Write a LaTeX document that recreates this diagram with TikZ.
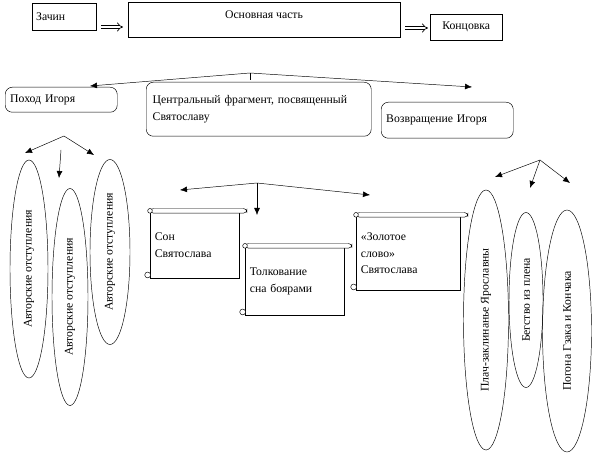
\documentclass[tikz,border=0pt]{standalone}
\usepackage{fontspec}
\setmainfont{Liberation Serif}
\usetikzlibrary{arrows.meta, positioning, shapes.geometric}

\begin{document}
\begin{tikzpicture}[
    x=0.03cm, y=-0.03cm,
    font=\fontsize{10}{14}\selectfont,
    box/.style={rectangle, draw=black, inner sep=3pt},
    rbox/.style={rectangle, rounded corners=6pt, draw=black, inner sep=4pt, align=left},
    oval/.style={ellipse, draw=black, inner sep=0pt},
    scroll/.style={rectangle, draw=black, align=left, inner sep=4pt, text width=#1},
    arrow/.style={->, >={Latex[length=6pt,width=5pt]}},
    dblarrow/.style={double, double distance=2pt, -{Implies}, semithick}
]
\useasboundingbox (0,0) rectangle (600,457);

% Top row
\node[box, minimum width=64*0.03cm, minimum height=27*0.03cm, anchor=north west, text width=56*0.03cm, align=left] (zachin) at (32,3) {Зачин};
\node[box, minimum width=272*0.03cm, minimum height=35*0.03cm, anchor=north west] (main) at (128,2) {};
\node at (264,15) {Основная часть};
\node[box, minimum width=72*0.03cm, minimum height=26*0.03cm, anchor=north west] (end) at (430,14) {Концовка};
\coordinate (a1) at (101,27);
\coordinate (a2) at (405,28);
\draw[dblarrow] (a1) -- ++(22,0);
\draw[dblarrow] (a2) -- ++(23,0);

% Parts
\node[rbox, minimum width=112*0.03cm, minimum height=25*0.03cm, anchor=north west, text width=102*0.03cm] (pohod) at (5,87) {Поход Игоря};
\node[rbox, minimum width=225*0.03cm, minimum height=54*0.03cm, anchor=north west, text width=212*0.03cm] (center) at (146,82) {Центральный фрагмент, посвященный\\Святославу\\[8pt]};
\node[rbox, minimum width=132*0.03cm, minimum height=36*0.03cm, anchor=north west, text width=122*0.03cm] (vozvr) at (381,102) {Возвращение Игоря};

\coordinate (top) at (250,73);
\draw (top) -- ++(0,7);
\draw[arrow] (top) -- (90,86);
\draw[arrow] (top) -- (472,87);

% Left ovals
\node[oval, minimum width=38*0.03cm, minimum height=218*0.03cm] (o1) at (29,269) {};
\node[oval, minimum width=36*0.03cm, minimum height=217*0.03cm] (o2) at (70,297) {};
\node[oval, minimum width=40*0.03cm, minimum height=185*0.03cm] (o3) at (110,252) {};
\node[rotate=90] at (o1) {Авторские отступления};
\node[rotate=90] at (o2) {Авторские отступления};
\node[rotate=90] at (o3) {Авторские отступления};
\coordinate (lt) at (64,136);
\draw[arrow] (lt) -- (25,153);
\draw[arrow] (lt) -- (94,155);
\draw[arrow] (61,150) -- (59,178);

% Scrolls
\node[scroll=80*0.03cm, minimum height=66*0.03cm, anchor=north west] (s1) at (150,212) {Сон\\Святослава};
\node[scroll=90*0.03cm, minimum height=68*0.03cm, anchor=north west] (s2) at (245,247) {Толкование\\сна боярами};
\node[scroll=95*0.03cm, minimum height=74*0.03cm, anchor=north west] (s3) at (356,216) {«Золотое\\слово»\\Святослава};
\foreach \s in {s1,s2,s3} {
  \draw[fill=white, rounded corners=3pt] ([yshift=3pt]\s.north west) rectangle ([xshift=6pt,yshift=-1pt]\s.north east);
  \draw[fill=white] ([yshift=1pt]\s.north west) circle (2pt);
  \draw[fill=white] ([xshift=-2pt,yshift=3pt]\s.south west) circle (2.5pt);
}
\coordinate (ct) at (257,183);
\draw[arrow] (ct) -- (180,190);
\draw[arrow] (ct) -- (257,215);
\draw[arrow] (ct) -- (370,195);

% Right ovals
\node[oval, fill=white, minimum width=45*0.03cm, minimum height=260*0.03cm] (r1) at (486,320) {};
\node[oval, minimum width=34*0.03cm, minimum height=175*0.03cm] (r2) at (526,300) {};
\node[oval, minimum width=49*0.03cm, minimum height=242*0.03cm] (r3) at (567,331) {};
\node[rotate=90] at (r1) {Плач-заклинанье Ярославны};
\node[rotate=90] at (r2) {Бегство из плена};
\node[rotate=90] at (r3) {Погона Гзака и Кончака};
\coordinate (rt) at (540,160);
\draw[arrow] (rt) -- (495,177);
\draw[arrow] (rt) -- (530,188);
\draw[arrow] (rt) -- (570,183);
\end{tikzpicture}
\end{document}
